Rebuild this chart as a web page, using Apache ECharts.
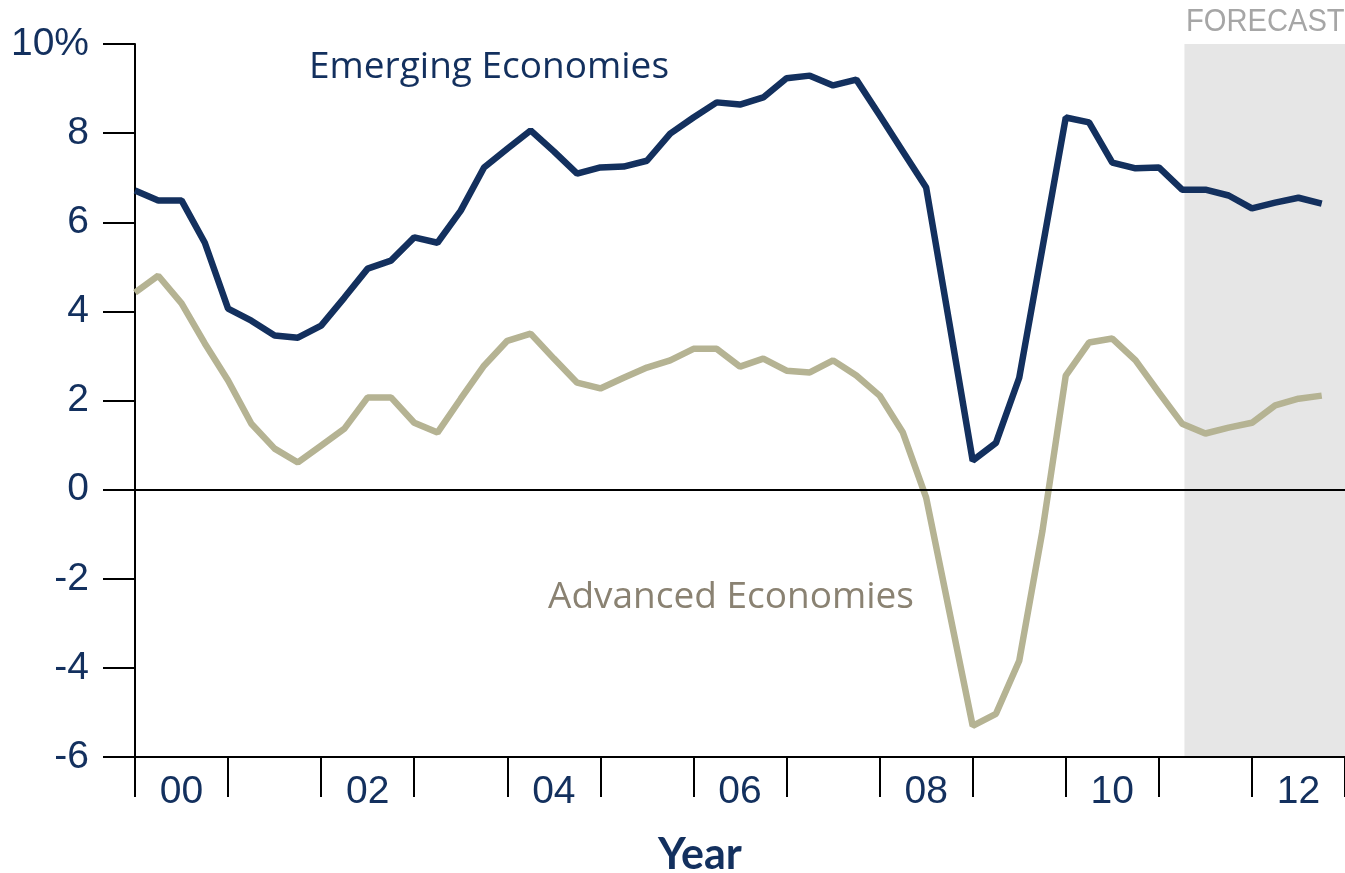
<!DOCTYPE html>
<html>
<head>
<meta charset="utf-8">
<script src="https://cdn.jsdelivr.net/npm/echarts@6/dist/echarts.min.js"></script>
<style>
  html, body { margin: 0; padding: 0; background: #fff; }
  #chart { width: 1345px; height: 873px; }
</style>
</head>
<body>
<div id="chart"></div>
<script>
// year labels on the x axis (one band per year)
var years = ['00','01','02','03','04','05','06','07','08','09','10','11','12'];
// quarterly growth, 2000Q1 .. 2012Q4
var emerging = [6.71,6.49,6.49,5.54, 4.06,3.79,3.46,3.41, 3.68,4.31,4.96,5.14,
  5.66,5.54,6.26,7.23, 7.65,8.06,7.59,7.09, 7.23,7.25,7.38,7.99,
  8.35,8.69,8.64,8.80, 9.23,9.29,9.07,9.20, 8.40,7.59,6.78,3.73,
  0.65,1.05,2.51,5.43, 8.35,8.24,7.34,7.21, 7.23,6.73,6.73,6.60,
  6.31,6.44,6.55,6.42];
var advanced = [4.42,4.80,4.18,3.28, 2.45,1.48,0.92,0.61, 0.99,1.37,2.07,2.07,
  1.50,1.28,2.04,2.78, 3.34,3.50,2.94,2.40, 2.27,2.51,2.74,2.90,
  3.16,3.16,2.76,2.94, 2.67,2.63,2.90,2.56, 2.11,1.28,-0.18,-2.74,
  -5.30,-5.03,-3.84,-0.92, 2.56,3.30,3.39,2.90, 2.18,1.48,1.26,1.39,
  1.50,1.89,2.04,2.11];
var forecastStart = 45.1; // quarter index where the forecast band begins

var chart = echarts.init(document.getElementById('chart'));

function toPoints(arr){
  var out = [];
  for (var i = 0; i < arr.length; i++) out.push([i, arr[i]]);
  return out;
}

var navy = '#13305e';
var khaki = '#b5b393';

chart.setOption({
  animation: false,
  backgroundColor: '#fff',
  grid: { left: 135, right: 0, top: 44, bottom: 116 },
  xAxis: [{
    type: 'category',
    data: years,
    boundaryGap: true,
    position: 'bottom',
    axisLine: { onZero: false, lineStyle: { color: '#000', width: 2 } },
    axisTick: { show: true, interval: 0, length: 40, lineStyle: { color: '#000', width: 2 } },
    axisLabel: { interval: 1, margin: 16, color: navy, fontSize: 39, fontFamily: 'Liberation Sans, Arial' },
    splitLine: { show: false }
  }, {
    type: 'value',
    min: 0, max: 52,
    show: false
  }],
  yAxis: {
    type: 'value',
    min: -6, max: 10, interval: 2,
    axisLine: { show: true, onZero: false, lineStyle: { color: '#000', width: 2 } },
    axisTick: { show: true, length: 32, lineStyle: { color: '#000', width: 2 } },
    axisLabel: {
      margin: 46, color: navy, fontSize: 39, fontFamily: 'Liberation Sans, Arial',
      formatter: function(v){ return v === 10 ? '10%' : String(v); }
    },
    splitLine: { show: false }
  },
  series: [{
    name: 'Advanced Economies',
    type: 'line',
    xAxisIndex: 1,
    data: toPoints(advanced),
    symbol: 'none',
    lineStyle: { color: khaki, width: 6.5 },
    z: 3,
    markArea: {
      silent: true,
      itemStyle: { color: '#e6e6e6' },
      data: [[{ xAxis: forecastStart }, { xAxis: 52 }]],
      z: 0
    },
    markLine: {
      silent: true,
      symbol: 'none',
      label: { show: false },
      lineStyle: { color: '#000', width: 2, type: 'solid' },
      data: [{ yAxis: 0 }]
    }
  }, {
    name: 'Emerging Economies',
    type: 'line',
    xAxisIndex: 1,
    data: toPoints(emerging),
    symbol: 'none',
    lineStyle: { color: navy, width: 6.5 },
    z: 4
  }],
  graphic: [{
    type: 'text', left: 1186, top: 7,
    style: { text: 'FORECAST', fill: '#a6a6a6', font: '31px "Liberation Sans", Arial' },
    scaleX: 0.94
  }, {
    type: 'text', left: 309, top: 49,
    style: { text: 'Emerging Economies', fill: navy, font: '37px "Open Sans", Lato, sans-serif' }
  }, {
    type: 'text', left: 548, top: 579,
    style: { text: 'Advanced Economies', fill: '#8a8272', font: '37px "Open Sans", Lato, sans-serif' }
  }, {
    type: 'text', left: 658, top: 834,
    style: { text: 'Year', fill: navy, font: 'bold 43px Lato, "Open Sans", sans-serif' }
  }]
});
</script>
</body>
</html>
